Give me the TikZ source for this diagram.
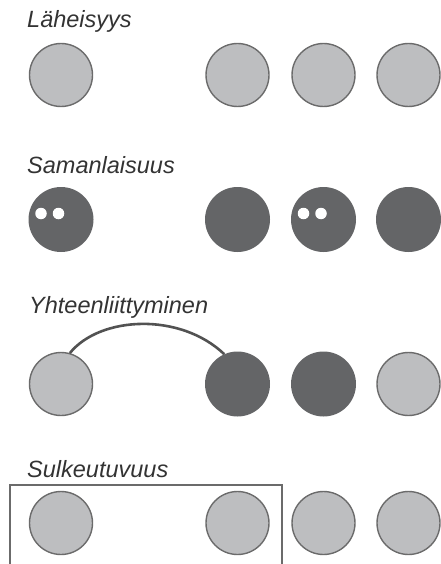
\documentclass[tikz,border=0pt]{standalone}
\usepackage{fontspec}
\setmainfont{Liberation Sans}
\definecolor{lightg}{HTML}{BDBEC0}
\definecolor{darkg}{HTML}{646567}
\definecolor{rimg}{HTML}{6B6B6B}
\definecolor{textg}{HTML}{333333}
\begin{document}
\begin{tikzpicture}[x=1pt,y=-1pt,
  light/.style={circle,minimum size=63pt,inner sep=0pt,fill=lightg,draw=rimg,line width=1.4pt},
  dark/.style={circle,minimum size=65pt,inner sep=0pt,fill=darkg},
  dot/.style={circle,minimum size=11.5pt,inner sep=0pt,fill=white},
  title/.style={anchor=base west,inner sep=0pt,font=\fontsize{23.5}{28}\selectfont\itshape,text=textg}]
\useasboundingbox (0,0) rectangle (441,564);
% row 1
\node[title] (t1) at (27,28) {Läheisyys};
\node[light] (a1) at (61,75) {};
\node[light] (a2) at (237.5,75) {};
\node[light] (a3) at (323.5,75) {};
\node[light] (a4) at (408.5,75) {};
% row 2
\node[title] (t2) at (27,174) {Samanlaisuus};
\node[dark] (b1) at (61,219.5) {};
\node[dark] (b2) at (237.5,219.5) {};
\node[dark] (b3) at (323.5,219.5) {};
\node[dark] (b4) at (408.5,219.5) {};
\node[dot] (d1) at (41,213.5) {};
\node[dot] (d2) at (58.5,213.5) {};
\node[dot] (d3) at (303.5,213.5) {};
\node[dot] (d4) at (321,213.5) {};
% row 3
\node[title] (t3) at (29,313) {Yhteenliittyminen};
\node[light] (c1) at (61,384) {};
\node[dark] (c2) at (237.5,384) {};
\node[dark] (c3) at (323.5,384) {};
\node[light] (c4) at (408.5,384) {};
\draw[line width=2.6pt,color=textg!85] (c1.74) .. controls (100,316) and (180,312) .. (c2.114);
% row 4
\node[title] (t4) at (27,477) {Sulkeutuvuus};
\draw[line width=1.4pt,color=rimg] (10,570) -- (10,485) -- (282,485) -- (282,570);
\node[light] (e1) at (61,523) {};
\node[light] (e2) at (237.5,523) {};
\node[light] (e3) at (323.5,523) {};
\node[light] (e4) at (408.5,523) {};
\end{tikzpicture}
\end{document}
